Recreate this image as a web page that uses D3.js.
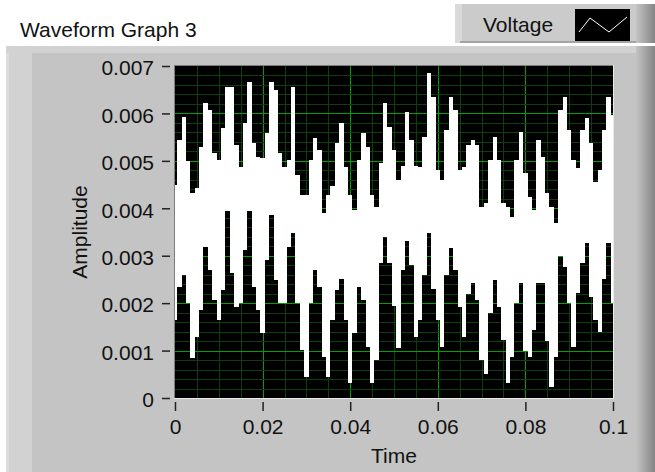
<!DOCTYPE html>
<html>
<head>
<meta charset="utf-8">
<script src="https://cdn.jsdelivr.net/npm/d3@7"></script>
<style>
  body { margin: 0; background: #fff; }
  svg { display: block; font-family: "Liberation Sans", Arial, sans-serif; }
</style>
</head>
<body>
<svg id="graph" width="655" height="472"></svg>
<script>
// Waveform data: samples at t0 + i*dt, trace envelope in mV
const t0 = 0;
const dt = 0.001;
const upperMv = [
    4.49, 5.44, 5.92, 5.00, 4.32, 4.43, 5.30, 6.21, 6.07, 5.16,
    5.02, 5.70, 6.56, 6.56, 5.33, 4.88, 5.80, 6.67, 5.37, 5.09,
    5.06, 5.58, 6.67, 6.49, 5.16, 4.88, 5.02, 6.56, 4.70, 4.28,
    4.28, 5.02, 5.48, 5.23, 3.90, 4.28, 4.46, 5.37, 5.80, 4.88,
    4.28, 3.96, 5.02, 5.58, 5.30, 4.28, 4.03, 4.95, 6.21, 5.72,
    5.23, 4.60, 4.90, 6.04, 5.44, 4.90, 4.88, 5.50, 6.85, 6.35,
    4.81, 4.60, 5.65, 6.35, 6.07, 4.81, 4.88, 5.33, 5.44, 5.33,
    4.03, 4.11, 5.02, 5.51, 5.02, 4.11, 4.03, 3.82, 5.02, 5.61,
    4.74, 4.24, 3.96, 5.44, 5.09, 4.32, 4.03, 3.69, 6.07, 6.35,
    5.65, 5.02, 4.85, 5.65, 5.90, 5.37, 4.56, 4.81, 5.65, 6.35,
    5.97
];
const lowerMv = [
    1.64, 2.35, 2.60, 2.00, 0.85, 1.29, 1.86, 3.19, 2.70, 2.07,
    1.64, 2.28, 3.95, 2.63, 1.92, 2.00, 3.12, 3.95, 2.35, 1.86,
    1.37, 2.91, 3.85, 2.49, 2.00, 2.00, 3.19, 3.48, 2.00, 1.01,
    0.45, 2.00, 2.70, 2.35, 0.87, 0.45, 1.64, 2.28, 2.50, 1.64,
    0.32, 1.37, 2.35, 2.07, 1.08, 0.32, 0.80, 2.84, 3.40, 2.84,
    1.95, 1.05, 2.70, 3.30, 2.80, 1.29, 1.64, 2.60, 3.48, 2.30,
    1.64, 1.08, 2.60, 3.16, 2.70, 1.92, 1.29, 2.20, 2.42, 2.07,
    0.80, 0.50, 1.79, 2.49, 1.92, 1.22, 0.32, 0.87, 2.00, 2.42,
    1.00, 0.87, 1.43, 2.42, 2.42, 1.20, 0.24, 0.87, 3.00, 2.77,
    2.00, 1.08, 2.21, 2.84, 3.26, 2.14, 1.64, 1.40, 2.50, 3.26,
    2.00
];

const xTicks = [0, 0.02, 0.04, 0.06, 0.08, 0.1];
const xTickLabels = ['0', '0.02', '0.04', '0.06', '0.08', '0.1'];
const yTicks = [0, 0.001, 0.002, 0.003, 0.004, 0.005, 0.006, 0.007];
const yTickLabels = ['0', '0.001', '0.002', '0.003', '0.004', '0.005', '0.006', '0.007'];

const graphTitle = 'Waveform Graph 3';
const plotName = 'Voltage';
const xName = 'Time';
const yName = 'Amplitude';

const PANEL = '#c4c4c4',
      PANEL_LIGHT = '#d3d2d3',
      GRID_MINOR = '#0c3f0c',
      GRID_MAJOR = '#00a000';

(function () {
    const svg = d3.select('#graph');
    const defs = svg.append('defs');

    // right side shading of the panel
    const shade = defs.append('linearGradient').attr('id', 'shade-right');
    shade.append('stop').attr('offset', '0%').attr('stop-color', PANEL);
    shade.append('stop').attr('offset', '100%').attr('stop-color', '#858585');

    // Panel frame
    svg.append('rect').attr('x', 6).attr('y', 46).attr('width', 649).attr('height', 426).attr('fill', PANEL);
    svg.append('rect').attr('x', 6).attr('y', 46).attr('width', 26).attr('height', 426).attr('fill', PANEL_LIGHT);
    svg.append('rect').attr('x', 6).attr('y', 46).attr('width', 3).attr('height', 426).attr('fill', '#dcdcdc');
    svg.append('rect').attr('x', 6).attr('y', 46).attr('width', 649).attr('height', 7).attr('fill', PANEL_LIGHT);
    svg.append('rect').attr('x', 636).attr('y', 46).attr('width', 19).attr('height', 426).attr('fill', 'url(#shade-right)');

    // Title
    svg.append('text')
        .attr('x', 20).attr('y', 37)
        .attr('font-size', 21)
        .attr('fill', '#111')
        .text(graphTitle);

    // Plot legend
    svg.append('rect').attr('x', 455).attr('y', 4).attr('width', 200).attr('height', 39).attr('fill', '#cbcbcb');
    svg.append('rect').attr('x', 455).attr('y', 4).attr('width', 7).attr('height', 39).attr('fill', '#dadada');
    svg.append('rect').attr('x', 460).attr('y', 41).attr('width', 195).attr('height', 2).attr('fill', '#a4a4a4');
    svg.append('rect').attr('x', 636).attr('y', 4).attr('width', 19).attr('height', 39).attr('fill', 'url(#shade-right)');
    svg.append('text')
        .attr('x', 483).attr('y', 32)
        .attr('font-size', 21)
        .attr('fill', '#111')
        .text(plotName);
    svg.append('rect').attr('x', 575).attr('y', 9).attr('width', 55).attr('height', 32).attr('fill', '#000');
    svg.append('polyline')
        .attr('points', '579,32 590,18 609,32 627,17')
        .attr('fill', 'none').attr('stroke', '#fff').attr('stroke-width', 1);

    // Scales
    const xScale = d3.scaleLinear().domain([0, 0.1]).range([175, 613]);
    const yScale = d3.scaleLinear().domain([0, 0.007]).range([398, 66]);
    const [x0, x1] = xScale.range();
    const [y0, y1] = yScale.range();

    // Plot area + grid
    svg.append('rect').attr('x', x0 - 1).attr('y', y1 - 1).attr('width', x1 - x0 + 2).attr('height', y0 - y1 + 2).attr('fill', '#eaeaea');
    svg.append('rect').attr('x', x0 - 1).attr('y', y1 - 1).attr('width', x1 - x0 + 1).attr('height', y0 - y1 + 1).attr('fill', '#7c7c7c');
    svg.append('rect').attr('x', x0).attr('y', y1).attr('width', x1 - x0).attr('height', y0 - y1).attr('fill', '#000');

    const grid = svg.append('g').attr('shape-rendering', 'crispEdges');
    const isMajorX = (t) => Math.abs(t / 0.02 - Math.round(t / 0.02)) < 1e-6;
    const isMajorY = (v) => Math.abs(v / 0.001 - Math.round(v / 0.001)) < 1e-6;

    grid.selectAll('line.gx').data(xScale.ticks(20).filter((t) => t > 0 && t < 0.1)).enter().append('line')
        .attr('class', 'gx')
        .attr('x1', (t) => Math.round(xScale(t)) + 0.5).attr('x2', (t) => Math.round(xScale(t)) + 0.5)
        .attr('y1', y1).attr('y2', y0)
        .attr('stroke', (t) => isMajorX(t) ? GRID_MAJOR : GRID_MINOR);
    grid.selectAll('line.gy').data(yScale.ticks(35).filter((v) => v > 0 && v < 0.007)).enter().append('line')
        .attr('class', 'gy')
        .attr('x1', x0).attr('x2', x1)
        .attr('y1', (v) => Math.round(yScale(v)) + 0.5).attr('y2', (v) => Math.round(yScale(v)) + 0.5)
        .attr('stroke', (v) => isMajorY(v) ? GRID_MAJOR : GRID_MINOR);

    // Trace (drawn as the band it fills at this time scale)
    const samples = upperMv.map((u, i) => ({ t: t0 + i * dt, hi: u / 1000, lo: lowerMv[i] / 1000 }));
    const band = d3.area()
        .curve(d3.curveStep)
        .x((d) => xScale(d.t))
        .y0((d) => yScale(d.lo))
        .y1((d) => yScale(d.hi));
    svg.append('path')
        .datum(samples)
        .attr('d', band)
        .attr('fill', '#fff')
        .attr('shape-rendering', 'crispEdges');

    // Axes
    const xAxis = d3.axisBottom(xScale)
        .tickValues(xTicks)
        .tickFormat((d, i) => xTickLabels[i])
        .tickSize(9)
        .tickPadding(8);
    const yAxis = d3.axisLeft(yScale)
        .tickValues(yTicks)
        .tickFormat((d, i) => yTickLabels[i])
        .tickSize(8)
        .tickPadding(8);

    const gx = svg.append('g').attr('transform', 'translate(0,402)').call(xAxis);
    const gy = svg.append('g').attr('transform', 'translate(170,0)').call(yAxis);
    [gx, gy].forEach((g) => {
        g.select('.domain').remove();
        g.selectAll('line').attr('stroke', '#222').attr('stroke-width', 1.5);
        g.selectAll('text').attr('font-size', 21).attr('font-family', '"Liberation Sans", Arial, sans-serif').attr('fill', '#111');
    });
    gy.selectAll('text').attr('dy', '0.42em');

    // Axis names
    svg.append('text')
        .attr('x', (x0 + x1) / 2).attr('y', 463)
        .attr('text-anchor', 'middle')
        .attr('font-size', 21).attr('fill', '#111')
        .text(xName);
    svg.append('text')
        .attr('transform', `translate(87,${(y0 + y1) / 2}) rotate(-90)`)
        .attr('text-anchor', 'middle')
        .attr('font-size', 21).attr('fill', '#111')
        .text(yName);
})();
</script>
</body>
</html>
